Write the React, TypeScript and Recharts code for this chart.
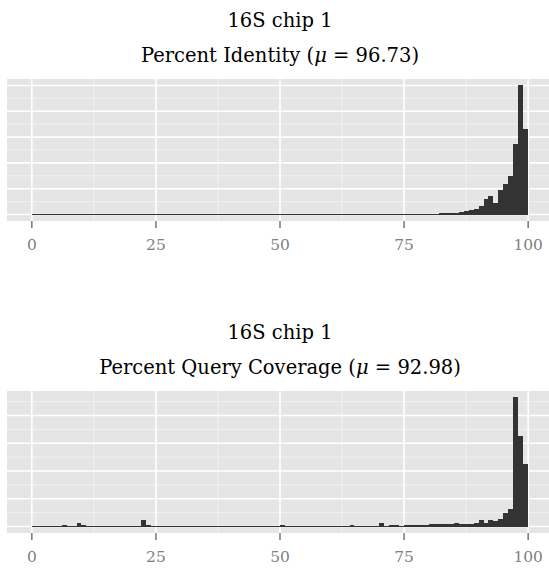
import React from 'react';
import { BarChart, Bar, XAxis, YAxis, CartesianGrid } from 'recharts';

// lower edge of each 1%-wide bin
const binLow = [
  0, 1, 2, 3, 4, 5, 6, 7, 8, 9, 10, 11, 12, 13, 14, 15, 16, 17, 18, 19,
  20, 21, 22, 23, 24, 25, 26, 27, 28, 29, 30, 31, 32, 33, 34, 35, 36, 37, 38, 39,
  40, 41, 42, 43, 44, 45, 46, 47, 48, 49, 50, 51, 52, 53, 54, 55, 56, 57, 58, 59,
  60, 61, 62, 63, 64, 65, 66, 67, 68, 69, 70, 71, 72, 73, 74, 75, 76, 77, 78, 79,
  80, 81, 82, 83, 84, 85, 86, 87, 88, 89, 90, 91, 92, 93, 94, 95, 96, 97, 98, 99,
];

// relative counts, percent identity
const identityCounts = [
  0.7, 0.7, 0.7, 0.7, 0.7, 0.7, 0.7, 0.7, 0.7, 0.7, 0.7, 0.7, 0.7, 0.7, 0.7, 0.7, 0.7, 0.7, 0.7, 0.7,
  0.7, 0.7, 0.7, 0.7, 0.7, 0.7, 0.7, 0.7, 0.7, 0.7, 0.7, 0.7, 0.7, 0.7, 0.7, 0.7, 0.7, 0.7, 0.7, 0.7,
  0.7, 0.7, 0.7, 0.7, 0.7, 0.7, 0.7, 0.7, 0.7, 0.7, 0.7, 0.7, 0.7, 0.7, 0.7, 0.7, 0.7, 0.7, 0.7, 0.7,
  0.7, 0.7, 0.7, 0.7, 0.7, 0.7, 0.7, 0.7, 0.7, 0.7, 0.7, 0.7, 0.7, 0.7, 0.7, 0.7, 0.7, 0.7, 0.7, 0.7,
  0.7, 0.8, 0.9, 0.9, 1.0, 1.2, 2.0, 2.6, 3.3, 4.4, 7.0, 11.9, 14.0, 9.3, 19.4, 23.3, 30.2, 54.8, 100, 65.9,
];

// relative counts, percent query coverage
const coverageCounts = [
  0.5, 0.5, 0.5, 0.5, 0.5, 0.5, 1.0, 0.5, 0.5, 2.9, 0.9, 0.5, 0.5, 0.5, 0.5, 0.5, 0.5, 0.5, 0.5, 0.5,
  0.5, 0.5, 5.0, 0.9, 0.5, 0.5, 0.5, 0.5, 0.5, 0.5, 0.5, 0.5, 0.5, 0.5, 0.5, 0.5, 0.5, 0.5, 0.5, 0.5,
  0.5, 0.5, 0.5, 0.5, 0.5, 0.5, 0.5, 0.5, 0.5, 0.5, 1.0, 0.5, 0.5, 0.5, 0.5, 0.5, 0.5, 0.5, 0.5, 0.5,
  0.5, 0.5, 0.5, 0.5, 1.0, 0.5, 0.5, 0.5, 0.5, 0.5, 2.2, 0.5, 1.0, 1.0, 0.4, 0.8, 0.8, 0.8, 0.8, 0.8,
  1.5, 1.5, 1.5, 1.5, 1.5, 2.2, 1.7, 1.7, 1.7, 2.5, 5.0, 2.9, 5.0, 4.3, 5.7, 9.4, 12.3, 93, 65.2, 45,
];

const xTicks = [0, 25, 50, 75, 100];
const xMinor = [12.5, 37.5, 62.5, 87.5];

const identityMajor = [0, 20, 40, 60, 80, 100];
const identityMinor = [10, 30, 50, 70, 90];
const coverageMajor = [0, 20, 40, 60, 80];
const coverageMinor = [10, 30, 50, 70, 90];

const CHART_W = 560;
const CHART_H = 262;
const MARGIN = { top: 79, left: 7, right: 7, bottom: 0 };
const X_DOMAIN: [number, number] = [-5, 105];
const BIN_W = (CHART_W - MARGIN.left - MARGIN.right) / (X_DOMAIN[1] - X_DOMAIN[0]);
const FONT = '"DejaVu Serif", serif';

// recharts rounds bar widths down, so redraw each bar the full bin width around its centre
const BinBar = (props: any) => {
  const { x, y, width, height } = props;
  if (height == null || height <= 0) return <g />;
  const cx = x + width / 2;
  return <rect x={cx - BIN_W / 2} y={y} width={BIN_W} height={height} fill="#333333" shapeRendering="crispEdges" />;
};

type HistProps = {
  counts: number[];
  major: number[];
  minor: number[];
  maxValue: number;
};

const Histogram = ({ counts, major, minor, maxValue }: HistProps) => {
  const rows = binLow.map((lo, i) => ({ mid: lo + 0.5, count: counts[i] }));
  const pad = maxValue * 0.05;
  return (
    <BarChart width={CHART_W} height={CHART_H} data={rows} margin={MARGIN} barCategoryGap={0} barGap={0}>
      <CartesianGrid fill="#e5e5e5" stroke="#f2f2f2" strokeWidth={1} horizontalValues={minor} verticalValues={xMinor} />
      <CartesianGrid stroke="#ffffff" strokeWidth={1.6} horizontalValues={major} verticalValues={xTicks} />
      <XAxis
        type="number"
        dataKey="mid"
        domain={X_DOMAIN}
        ticks={xTicks}
        allowDataOverflow
        axisLine={false}
        tickLine={{ stroke: '#7f7f7f', strokeWidth: 1.6 }}
        tickSize={7}
        tickMargin={11}
        height={41}
        tick={{ fill: '#808080', fontSize: 15.5, fontFamily: FONT }}
      />
      <YAxis hide type="number" domain={[-pad, maxValue + pad]} allowDataOverflow />
      <Bar dataKey="count" fill="#333333" shape={BinBar} isAnimationActive={false} />
    </BarChart>
  );
};

const Titles = () => (
  <svg width={549} height={572} style={{ position: 'absolute', left: 0, top: 0, pointerEvents: 'none' }}>
    <g fontFamily={FONT} fontSize={19.5} fill="#000" textAnchor="middle">
      <text x={280} y={27}>16S chip 1</text>
      <text x={280} y={62}>
        Percent Identity (<tspan fontStyle="italic">μ</tspan> = 96.73)
      </text>
      <text x={280} y={339}>16S chip 1</text>
      <text x={280} y={374}>
        Percent Query Coverage (<tspan fontStyle="italic">μ</tspan> = 92.98)
      </text>
    </g>
  </svg>
);

export default function App() {
  return (
    <div style={{ position: 'absolute', left: 0, top: 0, width: 549, height: 572, overflow: 'hidden', background: '#fff' }}>
      <div style={{ position: 'absolute', left: 0, top: 0 }}>
        <Histogram counts={identityCounts} major={identityMajor} minor={identityMinor} maxValue={100} />
      </div>
      <div style={{ position: 'absolute', left: 0, top: 312 }}>
        <Histogram counts={coverageCounts} major={coverageMajor} minor={coverageMinor} maxValue={93} />
      </div>
      <Titles />
    </div>
  );
}
